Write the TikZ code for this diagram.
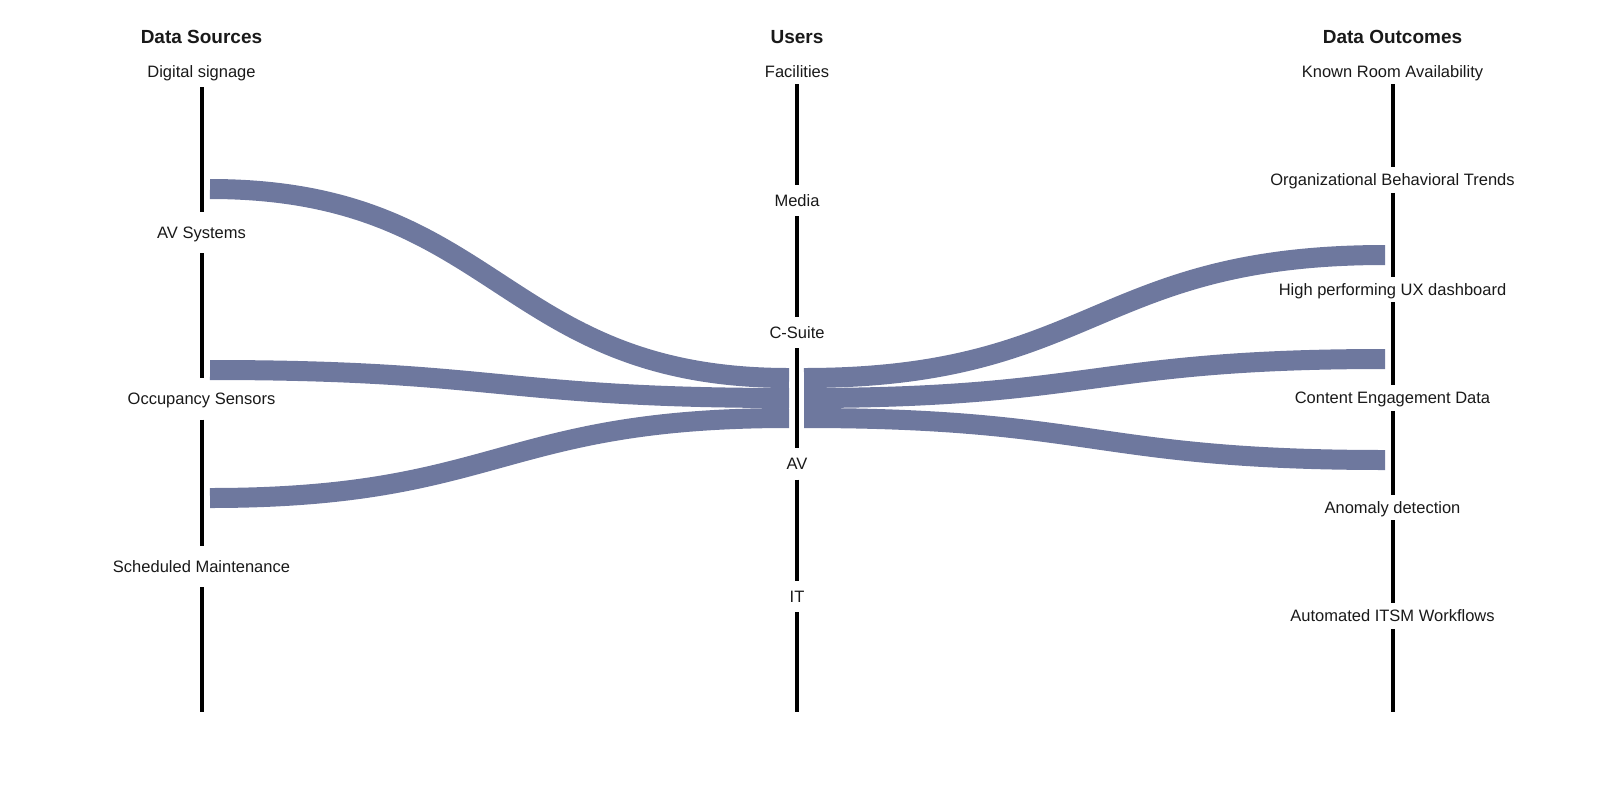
\documentclass[tikz,border=0pt]{standalone}
\usepackage{fontspec}
\setmainfont{Liberation Sans}
\usepackage{xcolor}
\usepackage{tikz}
\usetikzlibrary{positioning}
\definecolor{flowblue}{RGB}{110,120,158}
\definecolor{inkblack}{RGB}{25,25,25}
\tikzset{
  header/.style={
      font=\fontsize{19}{22}\selectfont\bfseries,
      text=inkblack,
      inner sep=0pt,
      text height=13.6pt,
      text depth=0pt
  },
  stage/.style={
      font=\fontsize{16.5}{20}\selectfont,
      text=inkblack,
      inner sep=0pt,
      text height=11.8pt,
      text depth=0pt
  },
  srcstage/.style={stage, minimum height=41pt},
  userstage/.style={stage, minimum height=31pt},
  outstage/.style={stage, minimum height=25.5pt},
  axisline/.style={line width=4pt, black},
  flow/.style={line width=20pt, flowblue, line cap=butt}
}

\begin{document}
\begin{tikzpicture}[x=1pt, y=-1pt]
      \useasboundingbox (0,0) rectangle (1601,801);

      % Data sources
      \coordinate (srctop) at (201.5,87);
      \coordinate (srcend) at (201.5,712);
      \node (signage) [stage, above=9pt of srctop] {Digital signage};
      \node (sources) [header, above=22pt of signage] {Data Sources};
      \node (avsys) [srcstage] at (201.5,232.5) {AV Systems};
      \node (occupancy) [srcstage] at (201.5,399) {Occupancy Sensors};
      \node (scheduled) [srcstage] at (201.5,566.5) {Scheduled Maintenance};

      % Users
      \coordinate (usertop) at (797,84);
      \coordinate (userend) at (797,712);
      \node (facilities) [stage, above=6pt of usertop] {Facilities};
      \node (users) [header, above=22pt of facilities] {Users};
      \node (media) [userstage] at (797,200.5) {Media};
      \node (csuite) [userstage] at (797,332.5) {C-Suite};
      \node (av) [userstage] at (797,464) {AV};
      \node (it) [userstage] at (797,596.5) {IT};

      % Data outcomes
      \coordinate (outtop) at (1392.5,84);
      \coordinate (outend) at (1392.5,712);
      \node (rooms) [stage, above=6pt of outtop] {Known Room Availability};
      \node (outcomes) [header, above=22pt of rooms] {Data Outcomes};
      \node (trends) [outstage] at (1392.5,180) {Organizational Behavioral Trends};
      \node (ux) [outstage] at (1392.5,289.5) {High performing UX dashboard};
      \node (engagement) [outstage] at (1392.5,398) {Content Engagement Data};
      \node (anomaly) [outstage] at (1392.5,507.5) {Anomaly detection};
      \node (itsm) [outstage] at (1392.5,616) {Automated ITSM Workflows};

      % Axes
      \draw[axisline] (srctop) -- (avsys);
      \draw[axisline] (avsys) -- (occupancy);
      \draw[axisline] (occupancy) -- (scheduled);
      \draw[axisline] (scheduled) -- (srcend);
      \draw[axisline] (usertop) -- (media);
      \draw[axisline] (media) -- (csuite);
      \draw[axisline] (csuite) -- (av);
      \draw[axisline] (av) -- (it);
      \draw[axisline] (it) -- (userend);
      \draw[axisline] (outtop) -- (trends);
      \draw[axisline] (trends) -- (ux);
      \draw[axisline] (ux) -- (engagement);
      \draw[axisline] (engagement) -- (anomaly);
      \draw[axisline] (anomaly) -- (itsm);
      \draw[axisline] (itsm) -- (outend);

      % Flow ends
      \coordinate (signage-out) at (210,189);
      \coordinate (avsys-out) at (210,370);
      \coordinate (occupancy-out) at (210,498);
      \coordinate (csuite-in1) at (789,378);
      \coordinate (csuite-in2) at (789,398);
      \coordinate (csuite-in3) at (789,418);
      \coordinate (csuite-out1) at (804,378);
      \coordinate (csuite-out2) at (804,398);
      \coordinate (csuite-out3) at (804,418);
      \coordinate (trends-in) at (1385,255);
      \coordinate (ux-in) at (1385,359);
      \coordinate (engagement-in) at (1385,460);

      % Flows
      \draw[flow] (signage-out) .. controls +(289.5,0) and +(-289.5,0) .. (csuite-in1);
      \draw[flow] (avsys-out) .. controls +(289.5,0) and +(-289.5,0) .. (csuite-in2);
      \draw[flow] (occupancy-out) .. controls +(289.5,0) and +(-289.5,0) .. (csuite-in3);
      \draw[flow] (csuite-out1) .. controls +(290.5,0) and +(-290.5,0) .. (trends-in);
      \draw[flow] (csuite-out2) .. controls +(290.5,0) and +(-290.5,0) .. (ux-in);
      \draw[flow] (csuite-out3) .. controls +(290.5,0) and +(-290.5,0) .. (engagement-in);
    \end{tikzpicture}
\end{document}
